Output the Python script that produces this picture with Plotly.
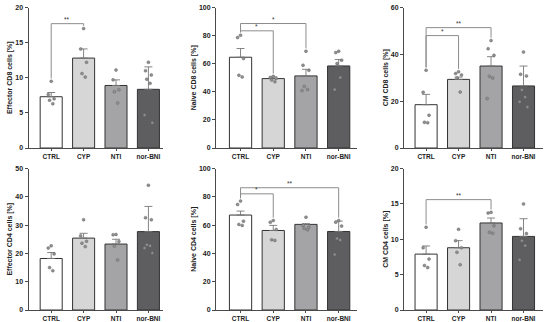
import plotly.graph_objects as go

groups = ["CTRL", "CYP", "NTI", "nor-BNI"]
bar_colors = ["#ffffff", "#d6d6d6", "#a4a4a6", "#5e5e60"]

# ---- Effector CD8 ----
eff_cd8_mean = [7.3, 12.8, 8.9, 8.35]
eff_cd8_err = [0.6, 1.3, 0.8, 3.2]
eff_cd8_pts = [[9.5, 7.6, 7.0, 6.8, 6.3],
               [17.0, 14.1, 12.2, 10.6, 10.1],
               [11.1, 9.7, 8.3, 8.0, 6.4],
               [12.2, 11.0, 10.4, 9.8, 9.2, 4.7, 3.6]]
eff_cd8_sig = [(0, 1, 17.7, "**")]

# ---- Naive CD8 ----
nai_cd8_mean = [64.6, 49.4, 51.3, 58.4]
nai_cd8_err = [6.2, 1.2, 4.7, 4.6]
nai_cd8_pts = [[80.3, 78.6, 63.7, 51.8, 50.6],
               [51.0, 50.2, 49.5, 48.4, 47.2],
               [68.9, 58.9, 55.3, 43.9, 41.6, 40.9],
               [68.9, 67.9, 62.5, 60.1, 50.1, 41.6]]
nai_cd8_sig = [(0, 1, 83.4, "*"), (0, 2, 88.6, "*")]

# ---- CM CD8 ----
cm_cd8_mean = [18.5, 29.3, 35.0, 26.5]
cm_cd8_err = [4.4, 1.0, 4.0, 8.5]
cm_cd8_pts = [[33.2, 23.8, 14.0, 11.0, 10.8],
              [32.6, 31.8, 31.2, 29.9, 23.9],
              [45.9, 42.4, 39.6, 30.6, 29.9, 21.1],
              [41.0, 31.5, 30.8, 24.9, 21.8, 19.7, 17.5]]
cm_cd8_sig = [(0, 1, 48.0, "*"), (0, 2, 51.4, "**")]

# ---- Effector CD4 ----
eff_cd4_mean = [18.2, 25.4, 23.3, 27.7]
eff_cd4_err = [2.1, 1.7, 1.7, 8.9]
eff_cd4_pts = [[22.7, 21.9, 19.8, 15.0, 13.9],
               [31.9, 26.2, 24.3, 23.6, 22.4],
               [26.7, 26.6, 24.2, 22.6, 17.7],
               [44.1, 32.6, 31.9, 23.1, 22.7, 21.9, 20.1]]
eff_cd4_sig = []

# ---- Naive CD4 ----
nai_cd4_mean = [67.1, 56.2, 60.5, 55.5]
nai_cd4_err = [2.8, 3.6, 0.5, 7.3]
nai_cd4_pts = [[77.0, 74.6, 62.8, 60.5, 59.8],
               [63.3, 62.1, 56.9, 49.6, 49.2],
               [65.6, 59.8, 58.6, 57.6, 56.7],
               [63.3, 62.1, 59.3, 50.6, 49.4, 39.3]]
nai_cd4_sig = [(0, 1, 82.1, "*"), (0, 3, 86.4, "**")]

# ---- CM CD4 ----
cm_cd4_mean = [7.9, 8.8, 12.3, 10.4]
cm_cd4_err = [1.15, 1.0, 0.7, 2.5]
cm_cd4_pts = [[11.7, 8.8, 7.2, 6.3, 6.0],
              [11.4, 9.8, 8.8, 8.15, 6.4],
              [13.8, 13.7, 11.9, 11.0, 10.85],
              [15.0, 11.5, 10.8, 9.8, 9.1, 7.1]]
cm_cd4_sig = [(0, 2, 15.6, "**")]

panels = [
    ("Effector CD8 cells [%]", eff_cd8_mean, eff_cd8_err, eff_cd8_pts, eff_cd8_sig, 20, 5),
    ("Naive CD8 cells [%]", nai_cd8_mean, nai_cd8_err, nai_cd8_pts, nai_cd8_sig, 100, 20),
    ("CM CD8 cells [%]", cm_cd8_mean, cm_cd8_err, cm_cd8_pts, cm_cd8_sig, 60, 20),
    ("Effector CD4 cells [%]", eff_cd4_mean, eff_cd4_err, eff_cd4_pts, eff_cd4_sig, 50, 10),
    ("Naive CD4 cells [%]", nai_cd4_mean, nai_cd4_err, nai_cd4_pts, nai_cd4_sig, 100, 20),
    ("CM CD4 cells [%]", cm_cd4_mean, cm_cd4_err, cm_cd4_pts, cm_cd4_sig, 20, 5),
]

W, H = 550, 322
col_x = [(28.5, 163.0, -0.70, 3.45), (216.0, 357.0, -0.75, 3.56), (404.0, 543.0, -0.68, 3.60)]
row_y = [(148.0, 7.5), (310.0, 168.5)]

AX = "#4a4a4a"
FONT = "Liberation Sans, Arial, sans-serif"
offsets = [0.0, -0.09, 0.09, -0.05, 0.05, -0.12, 0.12]

fig = go.Figure()
layout = dict(width=W, height=H, margin=dict(l=0, r=0, t=0, b=0, autoexpand=False),
              paper_bgcolor="white", plot_bgcolor="white", showlegend=False,
              font=dict(family=FONT, color="#222"), annotations=[])

for i, (title, mean, err, pts, sig, ymax, dtick) in enumerate(panels):
    r, c = divmod(i, 3)
    n = i + 1
    xs = "x" if n == 1 else f"x{n}"
    ys = "y" if n == 1 else f"y{n}"
    x0, x1, rl, rr = col_x[c]
    yb, yt = row_y[r]
    fig.add_trace(go.Bar(x=list(range(4)), y=mean, width=0.68,
                         marker=dict(color=bar_colors, line=dict(color="#333", width=1)),
                         error_y=dict(type="data", symmetric=False, array=err,
                                      arrayminus=[0] * 4, color="#777", thickness=0.9, width=4),
                         xaxis=xs, yaxis=ys))
    px_, py_ = [], []
    for g, vals in enumerate(pts):
        for k, v in enumerate(vals):
            px_.append(g + offsets[k % len(offsets)])
            py_.append(v)
    fig.add_trace(go.Scatter(x=px_, y=py_, mode="markers",
                             marker=dict(size=3.0, color="#909090", line=dict(width=0.4, color="#5a5a5a")),
                             xaxis=xs, yaxis=ys))
    for (a, b, h, lab) in sig:
        gap = ymax * 0.02
        ya = max(max(pts[a]), mean[a] + err[a]) + gap
        yb2 = max(max(pts[b]), mean[b] + err[b]) + gap
        fig.add_trace(go.Scatter(x=[a, a, b, b], y=[ya, h, h, yb2], mode="lines",
                                 line=dict(color="#8c8c8c", width=1),
                                 xaxis=xs, yaxis=ys, hoverinfo="skip"))
        layout["annotations"].append(dict(x=(a + b) / 2, y=h, xref=xs, yref=ys, text=lab,
                                          showarrow=False, yanchor="bottom", yshift=-1,
                                          font=dict(size=6.5, color="#333", family=FONT)))
    xk = "xaxis" if n == 1 else f"xaxis{n}"
    yk = "yaxis" if n == 1 else f"yaxis{n}"
    layout[xk] = dict(domain=[x0 / W, x1 / W], range=[rl, rr], anchor=ys, automargin=False,
                      tickvals=list(range(4)), ticktext=groups, showgrid=False, zeroline=False,
                      showline=True, linecolor=AX, linewidth=1, ticks="outside", ticklen=2,
                      tickcolor=AX, tickfont=dict(size=6.5, family=FONT, weight="bold", color="#222"))
    layout[yk] = dict(domain=[(H - yb) / H, (H - yt) / H], range=[0, ymax], anchor=xs,
                      automargin=False,
                      dtick=dtick, showgrid=False, zeroline=False, showline=True,
                      linecolor=AX, linewidth=1, ticks="outside", ticklen=3, tickcolor=AX,
                      tickfont=dict(size=7, family=FONT, weight="bold", color="#222"),
                      title=dict(text=title, standoff=1,
                                 font=dict(size=7, family=FONT, weight="bold", color="#222")))

fig.update_layout(**layout)
fig.write_html("out.html", config={"displayModeBar": False},
               post_script="document.body.style.margin='0';document.body.style.overflow='hidden';")
